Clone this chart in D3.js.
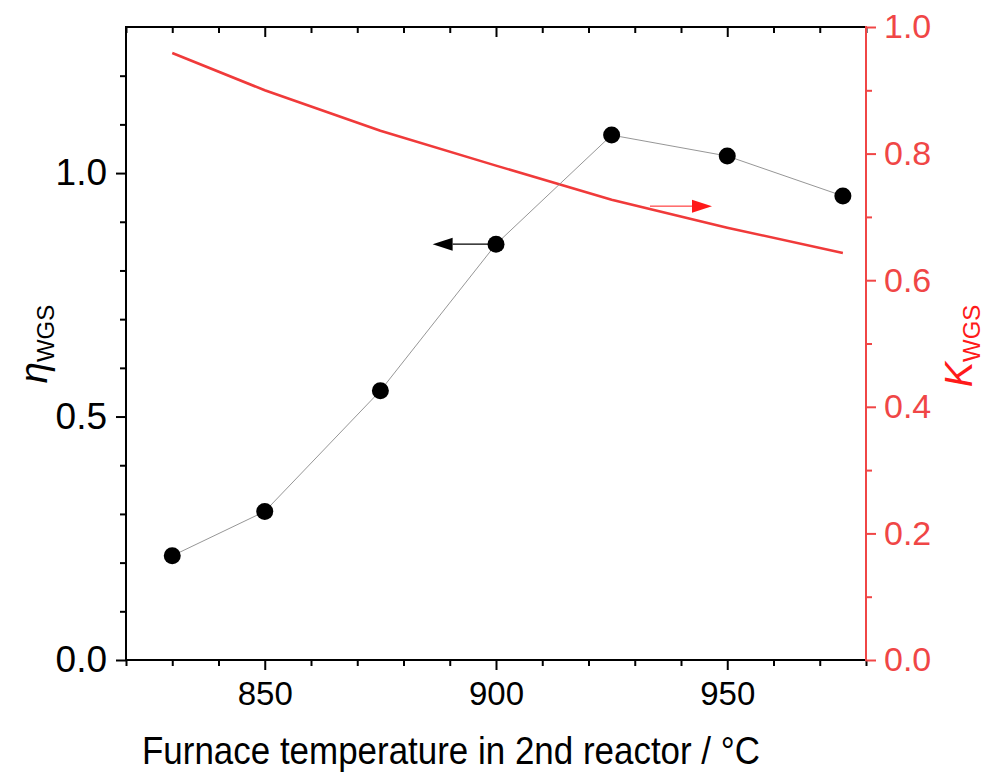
<!DOCTYPE html>
<html>
<head>
<meta charset="utf-8">
<script src="https://cdn.jsdelivr.net/npm/d3@7"></script>
<style>
  body { margin: 0; background: #fff; }
  svg text { font-family: "Liberation Sans", Arial, sans-serif; }
</style>
</head>
<body>
<svg></svg>
<script>
const width = 989;
const height = 773;

// data
const temperatures = [830, 850, 875, 900, 925, 950, 975];
const etaWGS = [0.214, 0.305, 0.553, 0.854, 1.078, 1.035, 0.953];
const kTemps = [830, 850, 875, 900, 925, 950, 975];
const kWGS = [0.959, 0.900, 0.836, 0.781, 0.727, 0.683, 0.643];

const xTicks = [850, 900, 950];
const leftTicks = [0, 0.5, 1.0];
const rightTicks = [0, 0.2, 0.4, 0.6, 0.8, 1.0];

const margin = {top: 27, right: 123, bottom: 113, left: 126};
const red = '#f04646';

const svg = d3.select('svg')
    .attr('width', width)
    .attr('height', height);

const x = d3.scaleLinear().domain([820, 980]).range([margin.left, width - margin.right]);
const yL = d3.scaleLinear().domain([0, 1.3]).range([height - margin.bottom, margin.top]);
const yR = d3.scaleLinear().domain([0, 1.0]).range([height - margin.bottom, margin.top]);

const x0 = margin.left, x1 = width - margin.right;
const y0 = height - margin.bottom, y1 = margin.top;

// minor ticks
const xMinor = d3.range(820, 981, 10).filter(v => !xTicks.includes(v));
const lMinor = d3.range(1, 13).map(v => v / 10).filter(v => v !== 0.5 && v !== 1.0);
const rMinor = d3.range(1, 10, 2).map(v => v / 10);

const styleAxis = (g, color, size) => {
    g.select('.domain').remove();
    g.selectAll('line').attr('stroke', color).attr('stroke-width', 2);
    g.selectAll('text').attr('fill', color).style('font-size', size + 'px');
};

// bottom axis
svg.append('g').attr('transform', `translate(0,${y0})`)
    .call(d3.axisBottom(x).tickValues(xTicks).tickSize(10).tickPadding(12).tickFormat(d3.format('d')))
    .call(g => styleAxis(g, '#000', 33));
svg.append('g').attr('transform', `translate(0,${y0})`)
    .call(d3.axisBottom(x).tickValues(xMinor).tickSize(6).tickFormat(''))
    .call(g => styleAxis(g, '#000', 33));

// top axis (ticks inward, no labels)
svg.append('g').attr('transform', `translate(0,${y1})`)
    .call(d3.axisBottom(x).tickValues(xTicks).tickSize(10).tickFormat(''))
    .call(g => styleAxis(g, '#000', 33));
svg.append('g').attr('transform', `translate(0,${y1})`)
    .call(d3.axisBottom(x).tickValues(xMinor).tickSize(6).tickFormat(''))
    .call(g => styleAxis(g, '#000', 33));

// left axis
svg.append('g').attr('transform', `translate(${x0},0)`)
    .call(d3.axisLeft(yL).tickValues(leftTicks).tickSize(10).tickPadding(9).tickFormat(d3.format('.1f')))
    .call(g => styleAxis(g, '#000', 37));
svg.append('g').attr('transform', `translate(${x0},0)`)
    .call(d3.axisLeft(yL).tickValues(lMinor).tickSize(6).tickFormat(''))
    .call(g => styleAxis(g, '#000', 37));

// right axis
svg.append('g').attr('transform', `translate(${x1},0)`)
    .call(d3.axisRight(yR).tickValues(rightTicks).tickSize(10).tickPadding(8).tickFormat(d3.format('.1f')))
    .call(g => styleAxis(g, red, 34));
svg.append('g').attr('transform', `translate(${x1},0)`)
    .call(d3.axisRight(yR).tickValues(rMinor).tickSize(6).tickFormat(''))
    .call(g => styleAxis(g, red, 34));

// frame
svg.append('line').attr('x1', x0).attr('x2', x1).attr('y1', y1).attr('y2', y1).attr('stroke', '#000').attr('stroke-width', 2);
svg.append('line').attr('x1', x0).attr('x2', x1 + 1).attr('y1', y0).attr('y2', y0).attr('stroke', '#000').attr('stroke-width', 2);
svg.append('line').attr('x1', x0).attr('x2', x0).attr('y1', y1 - 1).attr('y2', y0 + 1).attr('stroke', '#000').attr('stroke-width', 2);
svg.append('line').attr('x1', x1).attr('x2', x1).attr('y1', y1 - 1).attr('y2', y0 + 1).attr('stroke', red).attr('stroke-width', 2);

// K_WGS curve
const kLine = d3.line().x((d, i) => x(kTemps[i])).y(d => yR(d));
svg.append('path').datum(kWGS)
    .attr('d', kLine)
    .attr('fill', 'none')
    .attr('stroke', '#f03a3a')
    .attr('stroke-width', 2.6);

// eta line and points
const etaLine = d3.line().x((d, i) => x(temperatures[i])).y(d => yL(d));
svg.append('path').datum(etaWGS)
    .attr('d', etaLine)
    .attr('fill', 'none')
    .attr('stroke', '#8a8a8a')
    .attr('stroke-width', 0.9);

svg.selectAll('circle.pt').data(etaWGS).enter()
    .append('circle')
    .attr('class', 'pt')
    .attr('cx', (d, i) => x(temperatures[i]))
    .attr('cy', d => yL(d))
    .attr('r', 8.5)
    .attr('fill', '#000');

// arrows
const drawArrow = (xs, xe, yy, color, w) => {
    const dir = Math.sign(xe - xs);
    const headLen = 20, headW = 6.5;
    svg.append('line')
        .attr('x1', xs).attr('x2', xe - dir * headLen)
        .attr('y1', yy).attr('y2', yy)
        .attr('stroke', color).attr('stroke-width', w);
    svg.append('path')
        .attr('d', `M${xe},${yy} L${xe - dir * headLen},${yy - headW} L${xe - dir * headLen},${yy + headW} Z`)
        .attr('fill', color);
};
drawArrow(x(899), x(886.3), yL(0.854), '#000', 1.2);
drawArrow(x(933.3), x(946.7), yR(0.717), '#ff1a1a', 1);

// axis titles
svg.append('text')
    .attr('x', 142).attr('y', 764)
    .attr('textLength', 618)
    .attr('lengthAdjust', 'spacingAndGlyphs')
    .style('font-size', '39px')
    .attr('fill', '#000')
    .text('Furnace temperature in 2nd reactor / °C');

const leftTitle = svg.append('text')
    .attr('transform', 'translate(47,344) rotate(-90)')
    .attr('text-anchor', 'middle')
    .attr('fill', '#000');
leftTitle.append('tspan').style('font-size', '38px').style('font-style', 'italic').text('η');
leftTitle.append('tspan').style('font-size', '24px').attr('dy', 7).text('WGS');

const rightTitle = svg.append('text')
    .attr('transform', 'translate(972,346) rotate(-90)')
    .attr('text-anchor', 'middle')
    .attr('fill', '#ff1a1a');
rightTitle.append('tspan').style('font-size', '38px').style('font-style', 'italic').text('K');
rightTitle.append('tspan').style('font-size', '24px').attr('dy', 8).text('WGS');
</script>
</body>
</html>
